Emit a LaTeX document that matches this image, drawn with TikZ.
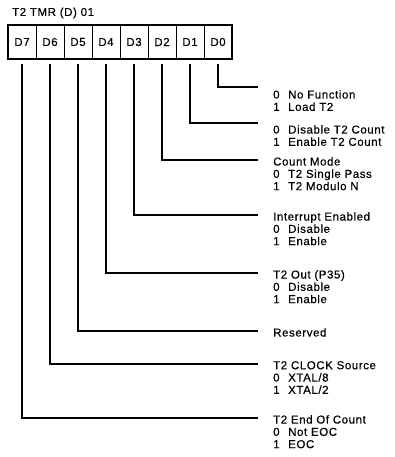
\documentclass[tikz,border=0pt]{standalone}
\usepackage{fontspec}
\setmainfont{Liberation Sans}[LetterSpace=5,FakeBold=0.4]
\usetikzlibrary{positioning}

\newcommand{\bitopt}[2]{\makebox[15bp][l]{#1}#2}

\begin{document}
\begin{tikzpicture}[
    x=1bp, y=-1bp,
    font=\fontsize{11.5bp}{12.3bp}\selectfont,
    bitcell/.style={draw, line width=1bp, minimum width=28bp, minimum height=34bp,
      inner sep=0pt, outer sep=0pt},
    bitline/.style={line width=1.3bp},
    bitnote/.style={anchor=north west, align=left, inner sep=0pt}
  ]
  \useasboundingbox (0,0) rectangle (394,457);

  \node[anchor=west, inner sep=0pt] (title) at (12,13) {T2 TMR (D) 01};

  % register cells
  \node[bitcell] (b7) at (22,42) {D7};
  \node[bitcell, right=0pt of b7] (b6) {D6};
  \node[bitcell, right=0pt of b6] (b5) {D5};
  \node[bitcell, right=0pt of b5] (b4) {D4};
  \node[bitcell, right=0pt of b4] (b3) {D3};
  \node[bitcell, right=0pt of b3] (b2) {D2};
  \node[bitcell, right=0pt of b2] (b1) {D1};
  \node[bitcell, right=0pt of b1] (b0) {D0};
  \draw[line width=2bp] (b7.north west) rectangle (b0.south east);

  % ends of the bit lines
  \coordinate (e0) at (258,87);
  \coordinate (e1) at (258,123);
  \coordinate (e2) at (258,160);
  \coordinate (e3) at (258,215);
  \coordinate (e4) at (258,273);
  \coordinate (e5) at (258,331);
  \coordinate (e6) at (258,364);
  \coordinate (e7) at (258,418);

  % bit descriptions
  \node[bitnote] (t0) at ([xshift=15bp,yshift=-3bp]e0)
    {\bitopt{0}{No Function}\\ \bitopt{1}{Load T2}};
  \node[bitnote] (t1) at ([xshift=15bp,yshift=-2bp]e1)
    {\bitopt{0}{Disable T2 Count}\\ \bitopt{1}{Enable T2 Count}};
  \node[bitnote] (t2) at ([xshift=15bp,yshift=3bp]e2)
    {Count Mode\\ \bitopt{0}{T2 Single Pass}\\ \bitopt{1}{T2 Modulo N}};
  \node[bitnote] (t3) at ([xshift=15bp,yshift=3bp]e3)
    {Interrupt Enabled\\ \bitopt{0}{Disable}\\ \bitopt{1}{Enable}};
  \node[bitnote] (t4) at ([xshift=15bp,yshift=3bp]e4)
    {T2 Out (P35)\\ \bitopt{0}{Disable}\\ \bitopt{1}{Enable}};
  \node[bitnote] (t5) at ([xshift=15bp,yshift=3bp]e5) {Reserved};
  \node[bitnote] (t6) at ([xshift=15bp,yshift=3bp]e6)
    {T2 CLOCK Source\\ \bitopt{0}{XTAL/8}\\ \bitopt{1}{XTAL/2}};
  \node[bitnote] (t7) at ([xshift=15bp,yshift=3bp]e7)
    {T2 End Of Count\\ \bitopt{0}{Not EOC}\\ \bitopt{1}{EOC}};

  % bit lines
  \draw[bitline] ([yshift=-5bp]b0.south) |- (e0);
  \draw[bitline] ([yshift=-5bp]b1.south) |- (e1);
  \draw[bitline] ([yshift=-5bp]b2.south) |- (e2);
  \draw[bitline] ([yshift=-5bp]b3.south) |- (e3);
  \draw[bitline] ([yshift=-5bp]b4.south) |- (e4);
  \draw[bitline] ([yshift=-5bp]b5.south) |- (e5);
  \draw[bitline] ([yshift=-5bp]b6.south) |- (e6);
  \draw[bitline] ([yshift=-5bp]b7.south) |- (e7);
\end{tikzpicture}
\end{document}
